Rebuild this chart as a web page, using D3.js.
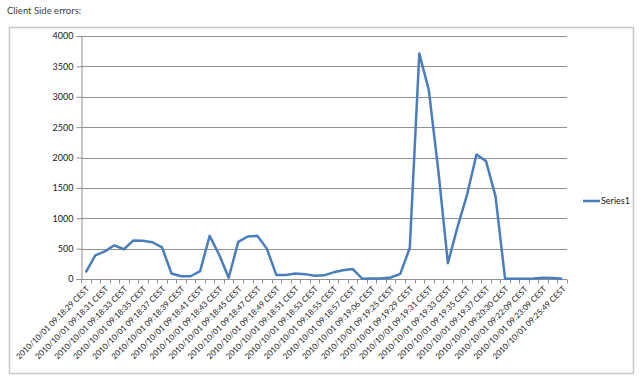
<!DOCTYPE html>
<html>
<head>
<meta charset="utf-8">
<script src="https://cdn.jsdelivr.net/npm/d3@7"></script>
<style>
  body { margin: 0; background: #fff; }
  svg { display: block; font-family: Lato, "Liberation Sans", sans-serif; }
</style>
</head>
<body>
<div id="vis"></div>
<script>
const FRAME_WIDTH = 640;
const FRAME_HEIGHT = 379;
const PLOT = {left: 81, right: 567, top: 36, bottom: 279};

// labels shown on the axis (every other category)
const tickLabels = [
  "2010/10/01 09:18:29 CEST", "2010/10/01 09:18:31 CEST", "2010/10/01 09:18:33 CEST",
  "2010/10/01 09:18:35 CEST", "2010/10/01 09:18:37 CEST", "2010/10/01 09:18:39 CEST",
  "2010/10/01 09:18:41 CEST", "2010/10/01 09:18:43 CEST", "2010/10/01 09:18:45 CEST",
  "2010/10/01 09:18:47 CEST", "2010/10/01 09:18:49 CEST", "2010/10/01 09:18:51 CEST",
  "2010/10/01 09:18:53 CEST", "2010/10/01 09:18:55 CEST", "2010/10/01 09:18:57 CEST",
  "2010/10/01 09:19:06 CEST", "2010/10/01 09:19:25 CEST", "2010/10/01 09:19:29 CEST",
  "2010/10/01 09:19:31 CEST", "2010/10/01 09:19:33 CEST", "2010/10/01 09:19:35 CEST",
  "2010/10/01 09:19:37 CEST", "2010/10/01 09:20:30 CEST", "2010/10/01 09:22:09 CEST",
  "2010/10/01 09:23:09 CEST", "2010/10/01 09:25:49 CEST"
];

// Series1 values, one per category (51 categories)
const series1 = [
  110, 390, 455, 555, 490, 635, 630, 605, 520, 90,
  45, 45, 130, 710, 400, 20, 610, 700, 710, 500,
  65, 65, 90, 80, 55, 60, 110, 145, 165, 5,
  10, 10, 25, 85, 510, 3710, 3110, 1780, 260, 850,
  1380, 2050, 1940, 1360, 5, 5, 5, 10, 20, 15,
  5
];

const yTicks = [0, 500, 1000, 1500, 2000, 2500, 3000, 3500, 4000];

const categories = series1.map((d, i) => i);

const svg = d3.select("#vis")
  .append("svg")
    .attr("width", FRAME_WIDTH)
    .attr("height", FRAME_HEIGHT);

// title
svg.append("text")
  .attr("x", 7)
  .attr("y", 14)
  .attr("font-size", "9.5px")
  .attr("fill", "#404040")
  .text("Client Side errors:");

// chart frame
svg.append("rect")
  .attr("x", 9.5)
  .attr("y", 27.5)
  .attr("width", 624)
  .attr("height", 346)
  .attr("fill", "none")
  .attr("stroke", "#c8c8c8")
  .attr("stroke-width", 1.5);

const X_SCALE = d3.scaleBand()
  .domain(categories)
  .range([PLOT.left, PLOT.right])
  .padding(0);

const Y_SCALE = d3.scaleLinear()
  .domain([0, 4000])
  .range([PLOT.bottom, PLOT.top]);

// gridlines
svg.append("g")
  .selectAll("line")
  .data(yTicks.filter(d => d > 0))
  .enter()
  .append("line")
    .attr("x1", PLOT.left)
    .attr("x2", PLOT.right)
    .attr("y1", d => Math.round(Y_SCALE(d)) + 0.5)
    .attr("y2", d => Math.round(Y_SCALE(d)) + 0.5)
    .attr("stroke", "#8f8f8f")
    .attr("stroke-width", 1);

// y axis
const yAxis = svg.append("g")
  .attr("transform", "translate(" + (PLOT.left + 0.5) + ",0)")
  .call(d3.axisLeft(Y_SCALE).tickValues(yTicks).tickFormat(d3.format("d")).tickSize(5).tickPadding(3));
yAxis.select(".domain").attr("stroke", "#8f8f8f");
yAxis.selectAll(".tick line").attr("stroke", "#8f8f8f");
yAxis.selectAll("text")
  .attr("font-size", "9px")
  .attr("font-family", "Lato, 'Liberation Sans', sans-serif")
  .attr("fill", "#202020");

// x axis: tick marks at category boundaries
const xAxis = svg.append("g")
  .attr("transform", "translate(0," + (PLOT.bottom + 0.5) + ")");
xAxis.append("line")
  .attr("x1", PLOT.left)
  .attr("x2", PLOT.right)
  .attr("stroke", "#8f8f8f");
xAxis.selectAll(".bound")
  .data(categories.concat([categories.length]))
  .enter()
  .append("line")
    .attr("class", "bound")
    .attr("x1", d => Math.round(PLOT.left + d * X_SCALE.bandwidth()) + 0.5)
    .attr("x2", d => Math.round(PLOT.left + d * X_SCALE.bandwidth()) + 0.5)
    .attr("y1", 0)
    .attr("y2", 4)
    .attr("stroke", "#8f8f8f");

xAxis.selectAll(".lbl")
  .data(tickLabels)
  .enter()
  .append("text")
    .attr("class", "lbl")
    .attr("text-anchor", "end")
    .attr("font-size", "8px")
    .attr("fill", "#202020")
    .attr("transform", (d, i) => {
      const x = X_SCALE(i * 2) + X_SCALE.bandwidth() / 2 + 4;
      return "translate(" + x + ",10) rotate(-45)";
    })
    .text(d => d);

// series line
const line = d3.line()
  .x((d, i) => X_SCALE(i) + X_SCALE.bandwidth() / 2)
  .y(d => Y_SCALE(d));

svg.append("path")
  .datum(series1)
  .attr("d", line)
  .attr("fill", "none")
  .attr("stroke", "#4a7ebb")
  .attr("stroke-width", 2.5)
  .attr("stroke-linejoin", "round");

// legend
svg.append("line")
  .attr("x1", 583)
  .attr("x2", 600)
  .attr("y1", 201)
  .attr("y2", 201)
  .attr("stroke", "#4a7ebb")
  .attr("stroke-width", 2.5);
svg.append("text")
  .attr("x", 601)
  .attr("y", 204)
  .attr("font-size", "9px")
  .attr("fill", "#202020")
  .text("Series1");
</script>
</body>
</html>
